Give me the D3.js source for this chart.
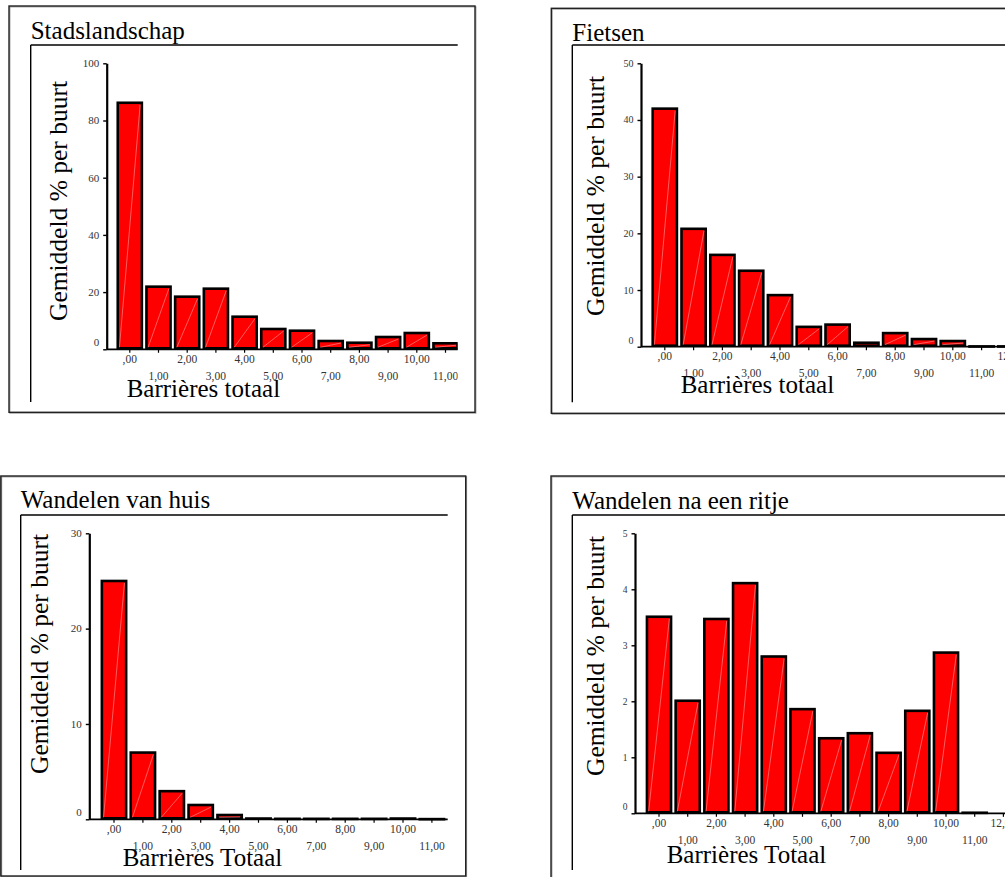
<!DOCTYPE html>
<html>
<head>
<meta charset="utf-8">
<script src="https://cdn.jsdelivr.net/npm/d3@7"></script>
<style>
  html, body { margin: 0; padding: 0; background: #fff; }
  svg { display: block; }
  text { font-family: "Liberation Serif", "Times New Roman", serif; }
</style>
</head>
<body>
<svg id="chart" width="1005" height="877"></svg>
<script>
// ---- data ----
const categories = [",00","1,00","2,00","3,00","4,00","5,00","6,00","7,00","8,00","9,00","10,00","11,00","12,00"];
const titles = ["Stadslandschap", "Fietsen", "Wandelen van huis", "Wandelen na een ritje"];
const xTitles = ["Barrières totaal", "Barrières totaal", "Barrières Totaal", "Barrières Totaal"];
const yTitle = "Gemiddeld % per buurt";
const stadslandschap = [86.2, 21.9, 18.4, 21.2, 11.4, 7.1, 6.5, 2.9, 2.3, 4.3, 5.7, 2.1, 0];
const fietsen = [42.0, 20.8, 16.2, 13.4, 9.1, 3.5, 3.9, 0.7, 2.4, 1.35, 1.0, 0.05, 0.05];
const wandelenVanHuis = [25.0, 7.0, 2.95, 1.5, 0.45, 0.08, 0.05, 0.05, 0.05, 0.05, 0.08, 0.02, 0];
const wandelenNaRitje = [3.51, 2.01, 3.47, 4.11, 2.80, 1.86, 1.34, 1.43, 1.08, 1.83, 2.87, 0.01, 0];
const yMax = [100, 50, 30, 5];
const yTicks = [[0,20,40,60,80,100],[0,10,20,30,40,50],[0,10,20,30],[0,1,2,3,4,5]];
const series = [stadslandschap, fietsen, wandelenVanHuis, wandelenNaRitje];

// ---- layout (positions only) ----
const layout = [
  { box:[9,6,475,412.3], inner:30.7, titleY:38.5, lineY:45, clipR:457.7, innerBottom:402,
    axisX:106.7, yTop:63.3, y0:349.3, c0:129.8, step:28.7, yFont:11,
    yTitleX:67.3, yTitleY:201, xTitleX:126.7, xTitleY:396.7 },
  { box:[551.3,8.3,1040,413.3], inner:572.3, titleY:40.5, lineY:45, clipR:1010, innerBottom:402.3,
    axisX:641, yTop:63.3, y0:346.7, c0:664.8, step:28.8, yFont:10,
    yTitleX:604, yTitleY:196, xTitleX:680.7, xTitleY:393.3 },
  { box:[0.8,476,465.7,876], inner:20.7, titleY:508.3, lineY:515, clipR:447.7, innerBottom:870,
    axisX:89.3, yTop:533.3, y0:819.3, c0:114, step:28.9, yFont:11,
    yTitleX:48, yTitleY:654, xTitleX:122.7, xTitleY:866 },
  { box:[551,476,1040,900], inner:572.3, titleY:509, lineY:515, clipR:1010, innerBottom:870,
    axisX:635, yTop:533.3, y0:813.3, c0:659, step:28.7, yFont:9.5,
    yTitleX:604, yTitleY:656, xTitleX:666.7, xTitleY:863.3 }
];

const svg = d3.select("#chart");
const defs = svg.append("defs");

layout.forEach((L, i) => {
  const g = svg.append("g");
  const [bx0, by0, bx1, by1] = L.box;
  // outer frame (soft gray double line)
  g.append("rect").attr("x", bx0 + 0.8).attr("y", by0 + 0.8)
    .attr("width", bx1 - bx0).attr("height", by1 - by0)
    .attr("fill", "none").attr("stroke", "#9a9a9a").attr("stroke-width", 1.2);
  g.append("rect").attr("x", bx0).attr("y", by0)
    .attr("width", bx1 - bx0).attr("height", by1 - by0)
    .attr("fill", "none").attr("stroke", "#222").attr("stroke-width", 1.4);

  // title + underline + inner left line
  g.append("text").attr("x", L.inner).attr("y", L.titleY)
    .attr("font-size", 25).attr("fill", "#000").text(titles[i]);
  g.append("line").attr("x1", L.inner).attr("x2", L.clipR).attr("y1", L.lineY).attr("y2", L.lineY)
    .attr("stroke", "#000").attr("stroke-width", 1.4);
  g.append("line").attr("x1", L.inner).attr("x2", L.inner).attr("y1", L.lineY).attr("y2", L.innerBottom)
    .attr("stroke", "#000").attr("stroke-width", 1.4);

  // clip
  const clipId = "clip" + i;
  defs.append("clipPath").attr("id", clipId).append("rect")
    .attr("x", L.inner).attr("y", L.lineY + 1).attr("width", L.clipR - L.inner)
    .attr("height", L.innerBottom - L.lineY + 20);
  const plot = g.append("g").attr("clip-path", `url(#${clipId})`);

  // scales
  const x = d3.scaleBand().domain(categories)
    .range([L.c0 - L.step / 2, L.c0 - L.step / 2 + categories.length * L.step]).padding(0);
  const y = d3.scaleLinear().domain([0, yMax[i]]).range([L.y0, L.yTop]);

  // bars
  const data = categories.map((c, k) => ({ c, v: series[i][k] })).filter(d => d.v > 0);
  const bars = plot.append("g");
  bars.selectAll("rect").data(data).join("rect")
    .attr("x", d => x(d.c) + 2.3)
    .attr("width", x.bandwidth() - 4.6)
    .attr("y", d => y(d.v))
    .attr("height", d => Math.max(0.1, y(0) - y(d.v) - 1))
    .attr("fill", "#ff0000").attr("stroke", "#000").attr("stroke-width", 2.6);
  bars.selectAll("line.diag").data(data.filter(d => y(0) - y(d.v) > 4)).join("line")
    .attr("class", "diag")
    .attr("x1", d => x(d.c) + 4).attr("y1", d => y(0) - 2)
    .attr("x2", d => x(d.c) + x.bandwidth() - 4).attr("y2", d => y(d.v) + 2)
    .attr("stroke", "#ff9a9a").attr("stroke-width", 0.6);

  // x axis
  const xAxis = d3.axisBottom(x).tickSize(3.5).tickSizeOuter(0).tickPadding(3);
  const xg = plot.append("g").attr("transform", `translate(0,${L.y0})`).call(xAxis);
  xg.select(".domain").remove();
  xg.append("line").attr("x1", L.axisX).attr("x2", L.clipR + 20).attr("y1", 0).attr("y2", 0)
    .attr("stroke", "#000").attr("stroke-width", 1.8);
  xg.selectAll(".tick line").attr("stroke", "#000").attr("stroke-width", 1.2);
  xg.selectAll(".tick text")
    .attr("font-family", "Liberation Serif, serif").attr("font-size", 11.5).attr("fill", "#333")
    .attr("y", (d, k) => (k % 2 === 0 ? 5.5 : 22.5));

  // y axis
  const yAxis = d3.axisLeft(y).tickValues(yTicks[i]).tickSize(3.5).tickSizeOuter(0).tickPadding(4)
    .tickFormat(d3.format("d"));
  const yg = g.append("g").attr("transform", `translate(${L.axisX},0)`).call(yAxis);
  yg.select(".domain").attr("stroke", "#000").attr("stroke-width", 2.2);
  yg.selectAll(".tick line").attr("stroke", "#000").attr("stroke-width", 1.4);
  yg.selectAll(".tick text")
    .attr("font-family", "Liberation Serif, serif").attr("font-size", L.yFont).attr("fill", "#333")
    .attr("dy", d => (d === 0 ? "-0.35em" : "0.3em"));

  // axis titles
  g.append("text")
    .attr("transform", `translate(${L.yTitleX},${L.yTitleY}) rotate(-90)`)
    .attr("text-anchor", "middle").attr("font-size", 25.5).attr("fill", "#000")
    .text(yTitle);
  g.append("text").attr("x", L.xTitleX).attr("y", L.xTitleY)
    .attr("font-size", 25).attr("fill", "#000").text(xTitles[i]);
});
</script>
</body>
</html>
